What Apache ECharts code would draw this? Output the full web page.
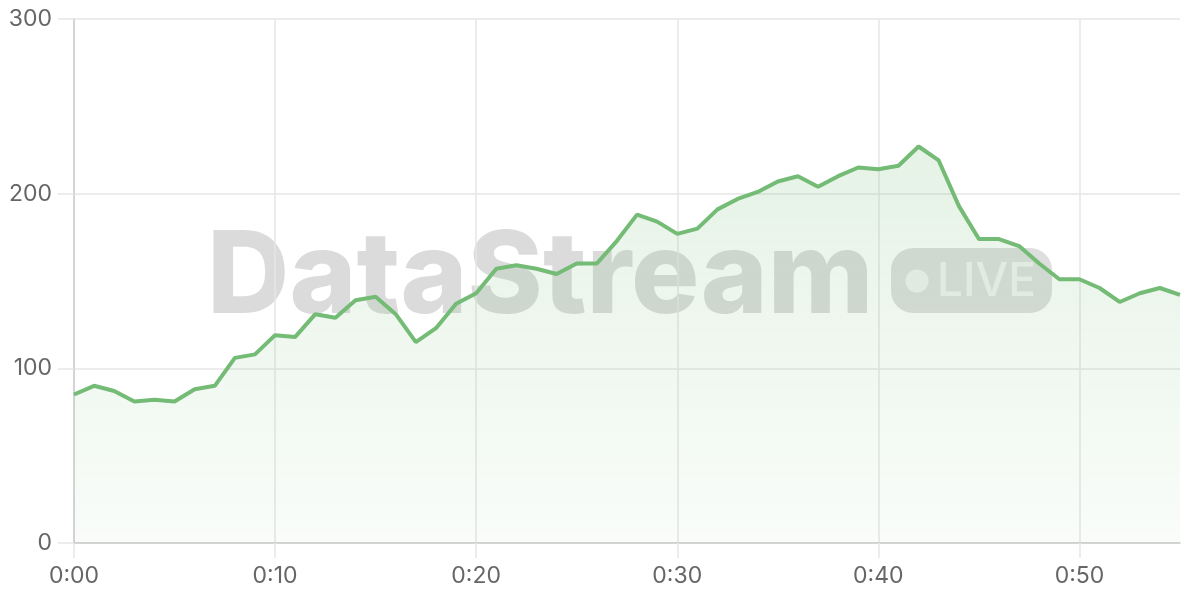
<!DOCTYPE html>
<html>
<head>
<meta charset="utf-8">
<script src="https://cdn.jsdelivr.net/npm/echarts@6/dist/echarts.min.js"></script>
<style>
html,body{margin:0;padding:0;background:#fff;}
#chart{width:1200px;height:600px;}
</style>
</head>
<body>
<div id="chart"></div>
<script>
const minutes = [];
for (let i = 0; i <= 55; i++) minutes.push('0:' + (i < 10 ? '0' + i : '' + i));
const values = [85, 90, 87, 81, 82, 81, 88, 90, 106, 108,
  119, 118, 131, 129, 139, 141, 131, 115, 123, 137,
  143, 157, 159, 157, 154, 160, 160, 173, 188, 184,
  177, 180, 191, 197, 201, 207, 210, 204, 210, 215,
  214, 216, 227, 219, 193, 174, 174, 170, 160, 151,
  151, 146, 138, 143, 146, 142];
const yTicks = [0, 100, 200, 300];
const watermarkText = 'DataStream';
const badgeText = 'LIVE';

function draw() {
  const chart = echarts.init(document.getElementById('chart'));
  const labelFont = 'Inter, "Noto Sans", sans-serif';
  chart.setOption({
    animation: false,
    grid: { left: 74, right: 20, top: 19, bottom: 57 },
    graphic: [
      { type: 'text', z: -10, left: 207, top: 222,
        style: { text: watermarkText, font: '800 114px Inter, sans-serif', fill: 'rgba(0,0,0,0.14)' } },
      { type: 'rect', z: -10, shape: { x: 891, y: 248, width: 161, height: 65, r: 22 },
        style: { fill: 'rgba(0,0,0,0.13)' } },
      { type: 'circle', z: -9, shape: { cx: 917, cy: 281, r: 11.5 },
        style: { fill: 'rgba(255,255,255,0.6)' } },
      { type: 'text', z: -9, x: 937, y: 282,
        style: { text: badgeText, font: '500 46px Inter, sans-serif', fill: 'rgba(255,255,255,0.6)', textVerticalAlign: 'middle' } }
    ],
    xAxis: {
      type: 'category',
      data: minutes,
      boundaryGap: false,
      axisLine: { lineStyle: { color: '#cccccc', width: 1.5 } },
      axisTick: { show: true, interval: 9, length: 15, lineStyle: { color: '#e6e6e6', width: 1.5 } },
      axisLabel: { interval: 9, margin: 22, color: '#666', fontSize: 23, fontFamily: labelFont },
      splitLine: { show: true, interval: 9, lineStyle: { color: '#e6e6e6', width: 1.5 } }
    },
    yAxis: {
      type: 'value',
      min: yTicks[0], max: yTicks[yTicks.length - 1], interval: 100,
      axisLine: { show: true, lineStyle: { color: '#cccccc', width: 1.5 } },
      axisTick: { show: true, length: 16, lineStyle: { color: '#e6e6e6', width: 1.5 } },
      axisLabel: { margin: 22, color: '#666', fontSize: 23, fontFamily: labelFont },
      splitLine: { show: true, lineStyle: { color: '#e6e6e6', width: 1.5 } }
    },
    series: [{
      type: 'line',
      data: values,
      symbol: 'none',
      smooth: false,
      lineStyle: { color: '#74bb76', width: 4 },
      areaStyle: {
        color: new echarts.graphic.LinearGradient(0, 0, 0, 1, [
          { offset: 0, color: 'rgba(116,187,118,0.26)' },
          { offset: 1, color: 'rgba(116,187,118,0.06)' }
        ])
      }
    }]
  });
}

Promise.all([
  document.fonts.load('800 114px Inter'),
  document.fonts.load('500 46px Inter'),
  document.fonts.load('400 23px Inter')
]).then(draw, draw);
</script>
</body>
</html>
